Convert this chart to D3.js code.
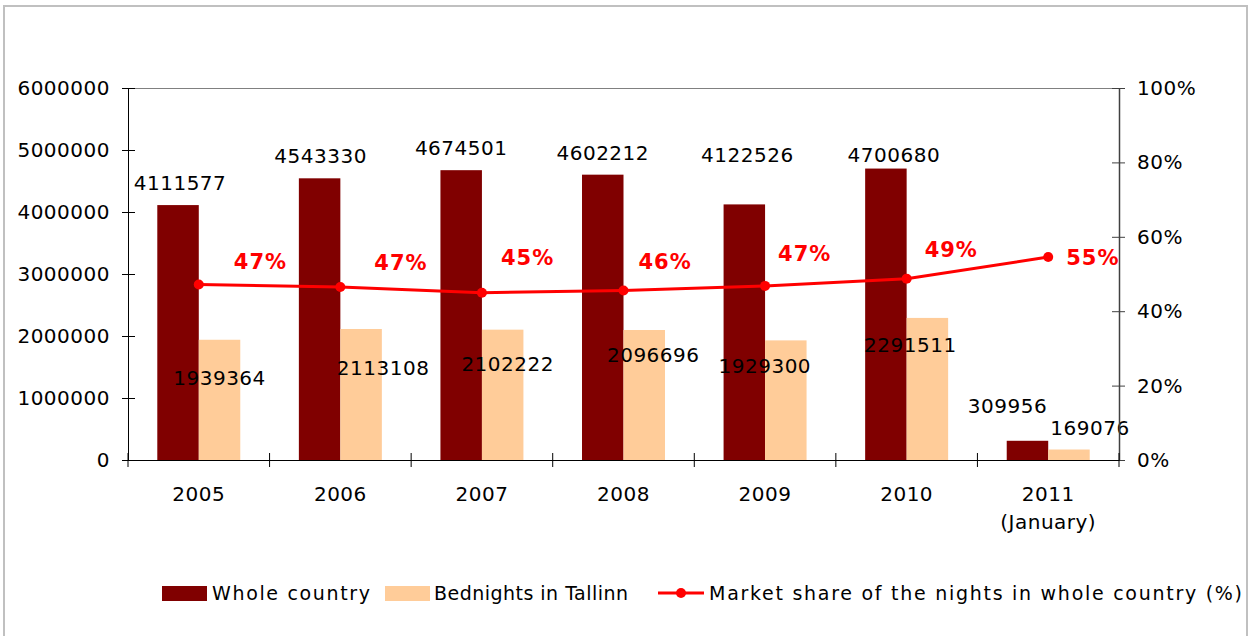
<!DOCTYPE html>
<html>
<head>
<meta charset="utf-8">
<script src="https://cdn.jsdelivr.net/npm/d3@7"></script>
<style>
  body { margin: 0; background: #fff; }
  svg text { font-family: "DejaVu Sans", Verdana, sans-serif; fill: #000; }
</style>
</head>
<body>
<svg id="chart" width="1254" height="636"></svg>
<script>
// data
const years = ["2005", "2006", "2007", "2008", "2009", "2010", "2011\n(January)"];
const wholeCountry = [4111577, 4543330, 4674501, 4602212, 4122526, 4700680, 309956];
const tallinn = [1939364, 2113108, 2102222, 2096696, 1929300, 2291511, 169076];
const marketShare = [0.4717, 0.4651, 0.4497, 0.4556, 0.4680, 0.4875, 0.5455];
const shareLabels = ["47%", "47%", "45%", "46%", "47%", "49%", "55%"];
const leftTicks = [0, 1000000, 2000000, 3000000, 4000000, 5000000, 6000000];
const rightTicks = [0, 0.2, 0.4, 0.6, 0.8, 1];

// hand-moved label nudges [dx, dy] (as in the original)
const wholeNudge = [[2, -15], [1, -15], [0, -15], [0, -15], [3, -42], [8, -7], [-20, -28]];
const tallinnNudge = [[0, 45], [22, 46], [5, 41], [9, 32], [-21, 33], [-17, 34], [21, -15]];
const shareNudge = [[35, -16], [34, -17], [19, -28], [15, -22], [13, -25], [18, -22], [18, 8]];

const svg = d3.select('#chart');
const margin = { top: 88, right: 135, bottom: 176, left: 128 };
const width = 1254, height = 636;
const innerWidth = width - margin.left - margin.right;
const innerHeight = height - margin.top - margin.bottom;

// outer chart border
svg.append('rect')
    .attr('x', 4).attr('y', 6)
    .attr('width', 1243).attr('height', 650)
    .attr('fill', 'none')
    .attr('stroke', '#c0c0c0')
    .attr('stroke-width', 2);

const g = svg.append('g')
    .attr('transform', `translate(${margin.left},${margin.top})`);

const xScale = d3.scaleBand().domain(years).range([0, innerWidth]);
const xSub = d3.scaleBand().domain(['whole', 'tallinn'])
    .range([0, xScale.bandwidth()])
    .paddingOuter(0.706);
const yScale = d3.scaleLinear().domain([0, 6000000]).range([innerHeight, 0]);
const yRight = d3.scaleLinear().domain([0, 1]).range([innerHeight, 0]);

// top border of plot area
g.append('line')
    .attr('x1', 0).attr('x2', innerWidth)
    .attr('y1', 0.5).attr('y2', 0.5)
    .attr('stroke', '#808080');

// bars
const groups = g.selectAll('.year').data(years)
    .enter().append('g')
    .attr('transform', d => `translate(${xScale(d)},0)`);

groups.append('rect')
    .attr('x', xSub('whole'))
    .attr('y', (d, i) => yScale(wholeCountry[i]))
    .attr('width', xSub.bandwidth())
    .attr('height', (d, i) => innerHeight - yScale(wholeCountry[i]))
    .attr('fill', '#800000');

groups.append('rect')
    .attr('x', xSub('tallinn'))
    .attr('y', (d, i) => yScale(tallinn[i]))
    .attr('width', xSub.bandwidth())
    .attr('height', (d, i) => innerHeight - yScale(tallinn[i]))
    .attr('fill', '#ffcc99');

// left axis
const yAxis = d3.axisLeft(yScale).tickValues(leftTicks).tickSize(6).tickSizeOuter(0).tickPadding(12)
    .tickFormat(d3.format('d'));
const yAxisG = g.append('g').call(yAxis);
yAxisG.selectAll('.tick line').attr('x1', 7).attr('stroke', '#000');
yAxisG.select('.domain').attr('stroke', '#000');
yAxisG.selectAll('text').style('font-size', '20px').style('letter-spacing', '0.5px').attr('fill', '#000');

// right axis
const yAxisR = d3.axisRight(yRight).tickValues(rightTicks).tickSize(6).tickSizeOuter(0).tickPadding(12)
    .tickFormat(d3.format('.0%'));
const yAxisRG = g.append('g').attr('transform', `translate(${innerWidth},0)`).call(yAxisR);
yAxisRG.selectAll('.tick line').attr('x1', -7).attr('stroke', '#404040');
yAxisRG.select('.domain').attr('stroke', '#404040').attr('stroke-width', 1.5);
yAxisRG.selectAll('text').style('font-size', '20px').style('letter-spacing', '0.5px').attr('fill', '#000');

// bottom axis
const xAxis = d3.axisBottom(xScale).tickSize(0).tickPadding(24);
const xAxisG = g.append('g').attr('transform', `translate(0,${innerHeight})`).call(xAxis);
xAxisG.select('.domain').attr('stroke', '#000');
xAxisG.selectAll('text')
    .style('font-size', '20px').style('letter-spacing', '0.5px').attr('fill', '#000')
    .attr('dy', null)
    .text(null)
    .each(function (d) {
        const t = d3.select(this);
        d.split('\n').forEach((line, k) => {
            t.append('tspan').attr('x', 0).attr('dy', k === 0 ? '0.85em' : '1.4em').text(line);
        });
    });
xAxisG.selectAll('.boundary').data(d3.range(years.length + 1))
    .enter().append('line')
    .attr('x1', i => i * xScale.step()).attr('x2', i => i * xScale.step())
    .attr('y1', -7).attr('y2', 7)
    .attr('stroke', '#000');

// value labels on bars
groups.append('text')
    .attr('x', (d, i) => xSub('whole') + xSub.bandwidth() / 2 + wholeNudge[i][0])
    .attr('y', (d, i) => yScale(wholeCountry[i]) + wholeNudge[i][1])
    .attr('text-anchor', 'middle')
    .style('font-size', '20px').style('letter-spacing', '0.5px')
    .text((d, i) => wholeCountry[i]);

groups.append('text')
    .attr('x', (d, i) => xSub('tallinn') + xSub.bandwidth() / 2 + tallinnNudge[i][0])
    .attr('y', (d, i) => yScale(tallinn[i]) + tallinnNudge[i][1])
    .attr('text-anchor', 'middle')
    .style('font-size', '20px').style('letter-spacing', '0.5px')
    .text((d, i) => tallinn[i]);

// market share line
const cx = (d, i) => xScale(years[i]) + xScale.bandwidth() / 2;
const line = d3.line()
    .x(cx)
    .y(d => yRight(d));

g.append('path')
    .datum(marketShare)
    .attr('d', line)
    .attr('fill', 'none')
    .attr('stroke', '#ff0000')
    .attr('stroke-width', 3);

g.selectAll('.dot').data(marketShare)
    .enter().append('circle')
    .attr('cx', cx)
    .attr('cy', d => yRight(d))
    .attr('r', 5)
    .attr('fill', '#ff0000');

g.selectAll('.share-label').data(marketShare)
    .enter().append('text')
    .attr('x', (d, i) => cx(d, i) + shareNudge[i][0])
    .attr('y', (d, i) => yRight(d) + shareNudge[i][1])
    .style('font-size', '21px').style('font-weight', 'bold').style('letter-spacing', '1px')
    .style('fill', '#ff0000')
    .text((d, i) => shareLabels[i]);

// legend
const legend = svg.append('g').attr('transform', 'translate(0,600)');
const legendItems = [
    { label: 'Whole country', color: '#800000', type: 'rect', x: 162, tx: 212, len: 158 },
    { label: 'Bednights in Tallinn', color: '#ffcc99', type: 'rect', x: 385, tx: 434, len: 194 },
    { label: 'Market share of the nights in whole country (%)', color: '#ff0000', type: 'line', x: 658, tx: 709, len: 533 }
];
legendItems.forEach(item => {
    if (item.type === 'rect') {
        legend.append('rect')
            .attr('x', item.x).attr('y', -14)
            .attr('width', 45).attr('height', 15)
            .attr('fill', item.color);
    } else {
        legend.append('line')
            .attr('x1', item.x).attr('x2', item.x + 46)
            .attr('y1', -7).attr('y2', -7)
            .attr('stroke', item.color).attr('stroke-width', 3);
        legend.append('circle')
            .attr('cx', item.x + 23).attr('cy', -7).attr('r', 5)
            .attr('fill', item.color);
    }
    legend.append('text')
        .attr('x', item.tx).attr('y', 0)
        .attr('textLength', item.len)
        .attr('lengthAdjust', 'spacing')
        .style('font-size', '19px')
        .text(item.label);
});
</script>
</body>
</html>
